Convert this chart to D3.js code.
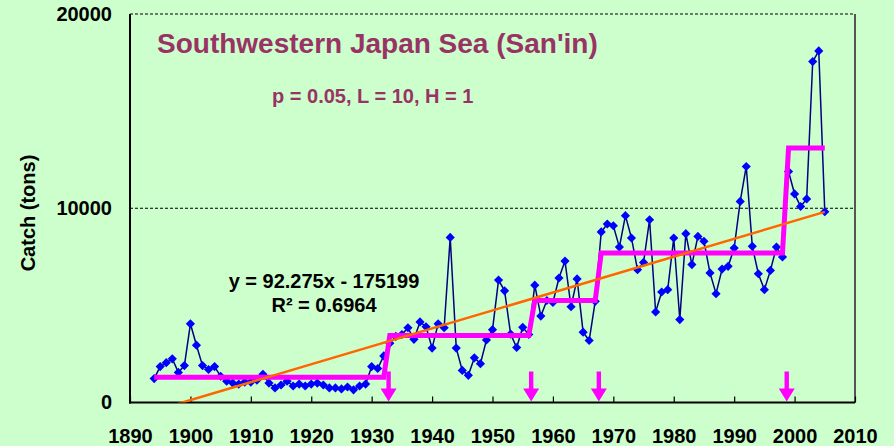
<!DOCTYPE html>
<html>
<head>
<meta charset="utf-8">
<script src="https://cdn.jsdelivr.net/npm/d3@7/dist/d3.min.js"></script>
<style>
  html, body { margin: 0; padding: 0; background: #ccffcc; }
  svg { display: block; }
  text { font-family: Arial, "Liberation Sans", sans-serif; font-weight: bold; }
</style>
</head>
<body>
<svg id="chart" width="894" height="446"></svg>
<script>
// ---- Data ----
const years = d3.range(1894, 2006);
const catchTons = [
  1230, 1850, 2050, 2250, 1550, 1900, 4050, 2950, 1900, 1700,
  1850, 1350, 1100, 1000, 950, 1050, 1050, 1150, 1450, 1000,
  750, 900, 1100, 850, 950, 850, 950, 1000, 900, 750,
  750, 700, 800, 650, 850, 950, 1850, 1750, 2400, 3050,
  3400, 3500, 3850, 3250, 4150, 3900, 2800, 4050, 3850, 8500,
  2800, 1650, 1400, 2300, 2000, 3220, 3750, 6300, 5750, 3520,
  2830, 3870, 3500, 6040, 4450, 5250, 5150, 6410, 7280, 4930,
  6360, 3620, 3190, 5210, 8780, 9190, 9100, 8000, 9620, 8470,
  6840, 7210, 9410, 4660, 5690, 5810, 8470, 4270, 8690, 7100,
  8550, 8300, 6670, 5600, 6870, 7010, 7950, 10350, 12150, 8040,
  6630, 5810, 6800, 8000, 7490, 11890, 10740, 10090, 10480, 17550,
  18100, 9820
];
// regime shifts (STARS): start year of each regime and its mean
const regimeStarts = [1894, 1933, 1957, 1968, 1999];
const regimeEnds   = [1932, 1956, 1967, 1998, 2005];
const regimeMeans  = [1300, 3450, 5250, 7700, 13100];
const shiftArrows  = [1932.8, 1956.4, 1967.6, 1998.7];
const arrowTopValue = 1600;
const trendSlope = 92.275, trendIntercept = -175199;
const xTicks = d3.range(1890, 2011, 10);
const yTicks = [0, 10000, 20000];

const titleText = "Southwestern Japan Sea (San'in)";
const subtitleText = "p = 0.05, L = 10, H = 1";
const eqText = "y = 92.275x - 175199";
const r2Text = "R\u00B2 = 0.6964";

// ---- Layout ----
const svg = d3.select("#chart");
const L = 130, R = 855, T = 14, B = 402.5;
const x = d3.scaleLinear().domain([1890, 2010]).range([L, R]);
const y = d3.scaleLinear().domain([0, 20000]).range([B, T]);

svg.append("rect").attr("width", 894).attr("height", 446).attr("fill", "#ccffcc");

svg.append("defs").append("clipPath").attr("id", "plotclip")
  .append("rect").attr("x", L).attr("y", T).attr("width", R - L).attr("height", B - T);

// gridlines (dashed) at 10000 and 20000
svg.append("g").selectAll("line").data([10000, 20000]).join("line")
  .attr("x1", L).attr("x2", R).attr("y1", d => y(d)).attr("y2", d => y(d))
  .attr("stroke", "#000").attr("stroke-width", 1.2).attr("stroke-dasharray", "3,2");

// right border
svg.append("line").attr("x1", R).attr("x2", R).attr("y1", T).attr("y2", B)
  .attr("stroke", "#555").attr("stroke-width", 2);

// x axis
const xAxis = d3.axisBottom(x).tickValues(xTicks).tickFormat(d3.format("d"))
  .tickSizeInner(-6).tickSizeOuter(0).tickPadding(26);
const gx = svg.append("g").attr("transform", `translate(0,${B})`).call(xAxis);
gx.select(".domain").remove();
gx.selectAll(".tick line").attr("stroke", "#000").attr("stroke-width", 1.2);
gx.selectAll(".tick text").attr("fill", "#000").style("font-size", "20px")
  .style("font-family", "Arial, 'Liberation Sans', sans-serif").style("font-weight", "bold");

// y axis
const yAxis = d3.axisLeft(y).tickValues(yTicks).tickFormat(d3.format("d"))
  .tickSize(0).tickPadding(18);
const gy = svg.append("g").attr("transform", `translate(${L},0)`).call(yAxis);
gy.select(".domain").remove();
gy.selectAll(".tick text").attr("fill", "#000").style("font-size", "20px")
  .style("font-family", "Arial, 'Liberation Sans', sans-serif").style("font-weight", "bold");

// axis lines
svg.append("line").attr("x1", L).attr("x2", L).attr("y1", T).attr("y2", B + 1)
  .attr("stroke", "#000").attr("stroke-width", 2);
svg.append("line").attr("x1", L - 1).attr("x2", R).attr("y1", B).attr("y2", B)
  .attr("stroke", "#000").attr("stroke-width", 2);

// y title
svg.append("text").attr("transform", "translate(35,213) rotate(-90)")
  .attr("text-anchor", "middle").style("font-size", "20px").attr("fill", "#000")
  .text("Catch (tons)");

// data series
const data = years.map((yr, i) => ({ yr, v: catchTons[i] }));
const plot = svg.append("g");
plot.append("path").datum(data)
  .attr("d", d3.line().x(d => x(d.yr)).y(d => y(d.v)))
  .attr("fill", "none").attr("stroke", "#000080").attr("stroke-width", 1.5);
plot.selectAll("path.mk").data(data).join("path").attr("class", "mk")
  .attr("d", d3.symbol(d3.symbolSquare, 42)())
  .attr("transform", d => `translate(${x(d.yr)},${y(d.v)}) rotate(45)`)
  .attr("fill", "#0000ff");

// regime step line
const stepPts = [];
regimeStarts.forEach((s, i) => {
  stepPts.push({ yr: s, v: regimeMeans[i] });
  stepPts.push({ yr: regimeEnds[i], v: regimeMeans[i] });
});
svg.append("path").datum(stepPts)
  .attr("d", d3.line().x(d => x(d.yr)).y(d => y(d.v)))
  .attr("fill", "none").attr("stroke", "#ff00ff").attr("stroke-width", 5)
  .attr("stroke-linejoin", "miter");

// shift arrows
const arrowG = svg.append("g");
shiftArrows.forEach(yr => {
  const cx = x(yr), top = y(arrowTopValue), tip = B - 1;
  const headH = 13, headW = 8, shaftW = 2.2;
  arrowG.append("path")
    .attr("d", `M${cx - shaftW},${top} L${cx + shaftW},${top} L${cx + shaftW},${tip - headH} ` +
      `L${cx + headW},${tip - headH} L${cx},${tip} L${cx - headW},${tip - headH} L${cx - shaftW},${tip - headH} Z`)
    .attr("fill", "#ff00ff");
});

// trend line
svg.append("line").attr("clip-path", "url(#plotclip)")
  .attr("x1", x(years[0])).attr("y1", y(trendSlope * years[0] + trendIntercept))
  .attr("x2", x(years[years.length - 1])).attr("y2", y(trendSlope * years[years.length - 1] + trendIntercept))
  .attr("stroke", "#ff6600").attr("stroke-width", 2.5);

// texts
svg.append("text").attr("x", 157).attr("y", 53).attr("fill", "#993366")
  .style("font-size", "28px").text(titleText);
svg.append("text").attr("x", 272).attr("y", 103).attr("fill", "#993366")
  .style("font-size", "20px").text(subtitleText);
svg.append("text").attr("x", 324).attr("y", 288).attr("text-anchor", "middle").attr("fill", "#000")
  .style("font-size", "20px").text(eqText);
svg.append("text").attr("x", 324).attr("y", 312).attr("text-anchor", "middle").attr("fill", "#000")
  .style("font-size", "20px").text(r2Text);
</script>
</body>
</html>
